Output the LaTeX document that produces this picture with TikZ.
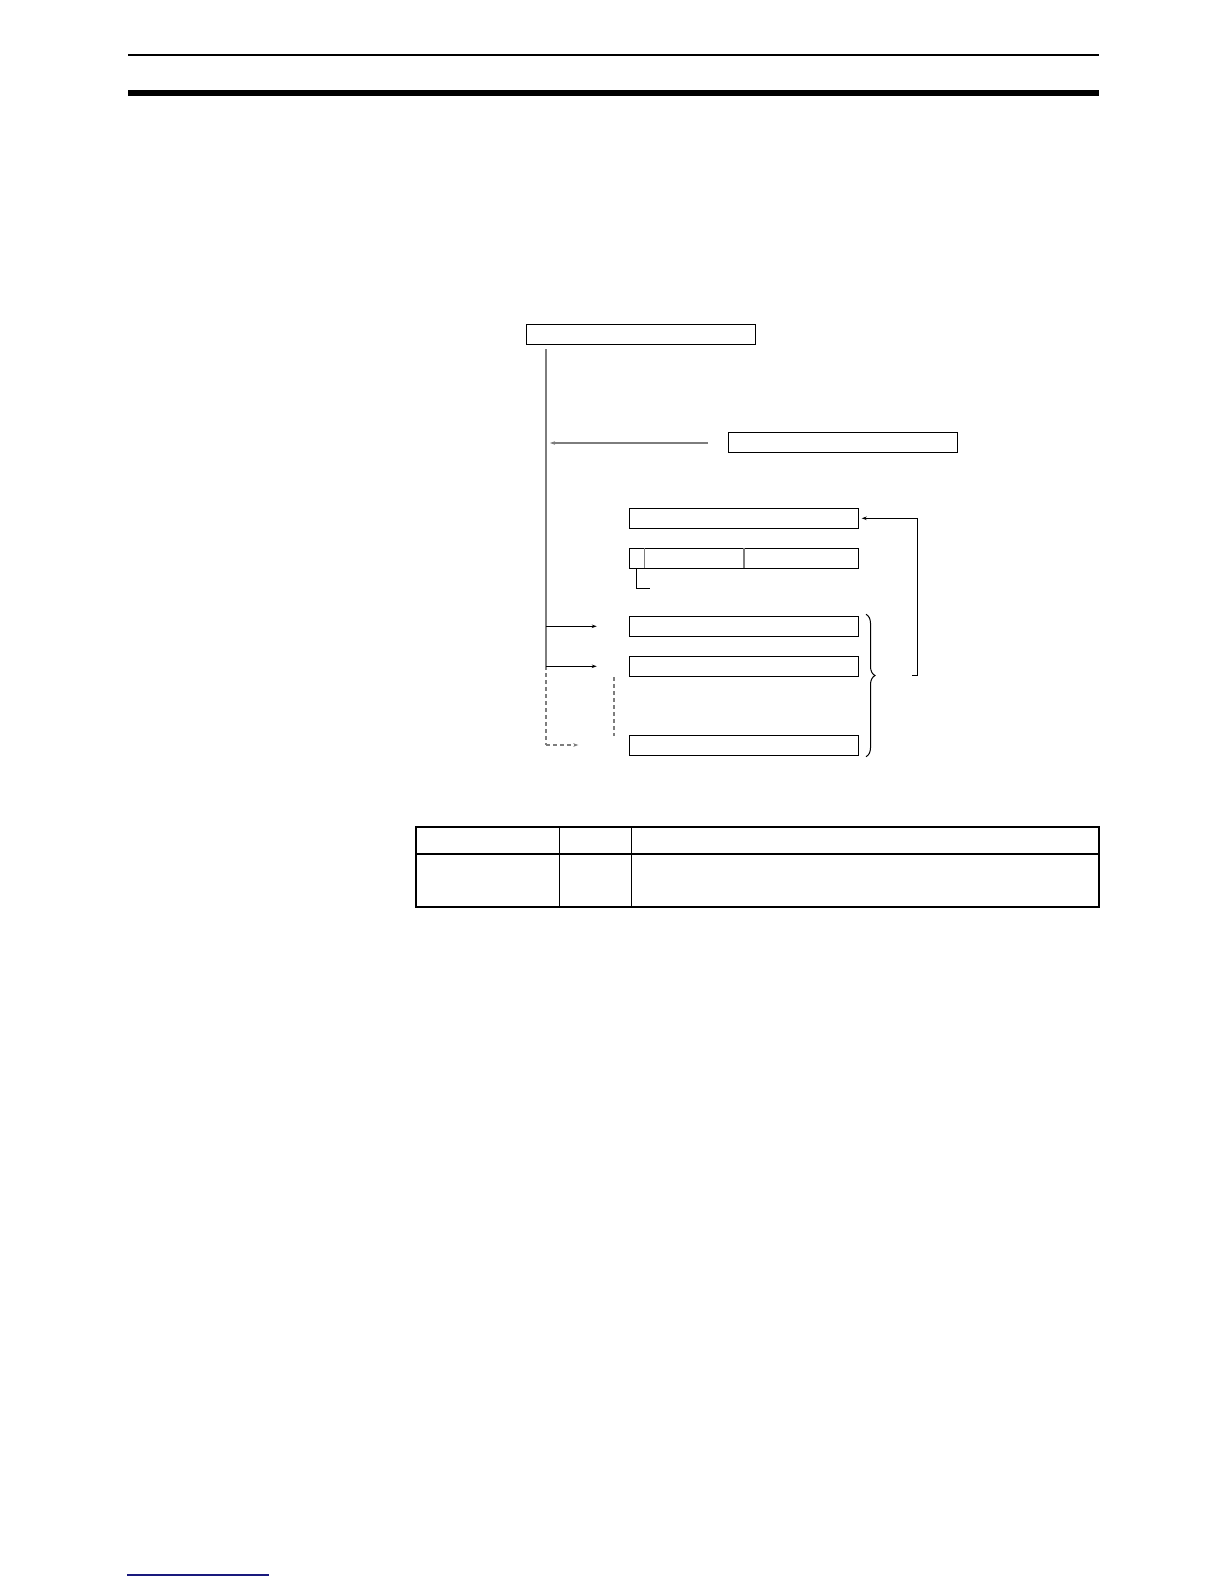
\documentclass[tikz,border=0pt]{standalone}
\usetikzlibrary{arrows.meta,decorations.pathreplacing}
\definecolor{lgray}{RGB}{125,125,125}
\definecolor{navyline}{RGB}{25,25,125}
\tikzset{
  rec/.style={draw=black,line width=1.1bp,minimum width=229.4bp,minimum height=20bp,inner sep=0pt,fill=white},
  trunk/.style={draw=lgray,line width=1.4bp},
  arr/.style={line width=1bp,-{Stealth[length=5bp,width=3.5bp]}},
  dsh/.style={draw=lgray,line width=1.2bp,dash pattern=on 4bp off 3bp},
  tbl/.style={draw=black,line width=2.2bp},
  tbli/.style={draw=black,line width=1bp}
}
\begin{document}
\begin{tikzpicture}[x=1bp,y=-1bp]
\useasboundingbox (0,0) rectangle (1224,1584);
% page rules
\coordinate (r1a) at (128,55); \coordinate (r1b) at (1099,55);
\draw[line width=1.2bp] (r1a) -- (r1b);
\coordinate (r2a) at (128,92.8); \coordinate (r2b) at (1099,92.8);
\draw[line width=5.7bp] (r2a) -- (r2b);
\coordinate (r3a) at (127,1575); \coordinate (r3b) at (269,1575);
\draw[navyline,line width=1.2bp] (r3a) -- (r3b);
% boxes
\node[rec] (A) at (641,334.3) {};
\node[rec] (B) at (843,442.3) {};
\node[rec] (C) at (744,518.3) {};
\node[rec] (D) at (744,558.3) {};
\node[rec] (E) at (744,626.3) {};
\node[rec] (F) at (744,666.3) {};
\node[rec] (G) at (744,745.7) {};
% dividers in D
\draw[lgray,line width=1.4bp] (644.7,548.3) -- (644.7,568.3);
\draw[lgray,line width=1.4bp] (744,548.3) -- (744,568.3);
% small L under D
\coordinate (l1) at (636.3,568.3);
\coordinate (l2) at (636.3,588.3);
\coordinate (l3) at (650,588.3);
\draw[line width=1bp] (l1) -- (l2) -- (l3);
% trunk
\coordinate (t0) at (546,349);
\coordinate (t1) at (546,626.3);
\coordinate (t2) at (546,666.3);
\coordinate (t3) at (546,745);
\draw[trunk] (t0) -- (t2);
\draw[dsh] (t2) -- (t3);
% arrow from B side into trunk
\coordinate (bs) at (708,443);
\coordinate (be) at (550,443);
\draw[arr,lgray,line width=1.3bp] (bs) -- (be);
% arrows to E F G
\coordinate (e1) at (596.7,626.3);
\coordinate (f1) at (596.7,666.3);
\coordinate (g1) at (578.3,745);
\draw[arr] (t1) -- (e1);
\draw[arr] (t2) -- (f1);
\draw[dsh,-{Stealth[length=5bp,width=3.5bp]}] (t3) -- (g1);
% dotted continuation between F and G
\coordinate (d1) at (614,677.3);
\coordinate (d2) at (614,736);
\draw[dsh] (d1) -- (d2);
% brace
\coordinate (br1) at (866,614.3);
\coordinate (br2) at (866,756.7);
\draw[line width=1bp,decorate,decoration={brace,amplitude=9bp,aspect=0.43}] (br1) -- (br2);
% feedback line into C
\coordinate (fb0) at (912,675);
\coordinate (fb1) at (917.3,675);
\coordinate (fb2) at (917.3,518.3);
\coordinate (fb3) at (861.7,518.3);
\draw[arr] (fb0) -- (fb1) -- (fb2) -- (fb3);
% table
\coordinate (T1) at (416,826.7);
\coordinate (T2) at (1099,906.7);
\coordinate (h1) at (416,853.7); \coordinate (h2) at (1099,853.7);
\coordinate (c1a) at (559.7,826.7); \coordinate (c1b) at (559.7,906.7);
\coordinate (c2a) at (631.7,826.7); \coordinate (c2b) at (631.7,906.7);
\draw[tbli] (c1a) -- (c1b);
\draw[tbli] (c2a) -- (c2b);
\draw[tbl] (h1) -- (h2);
\draw[tbl] (T1) rectangle (T2);
\end{tikzpicture}
\end{document}
